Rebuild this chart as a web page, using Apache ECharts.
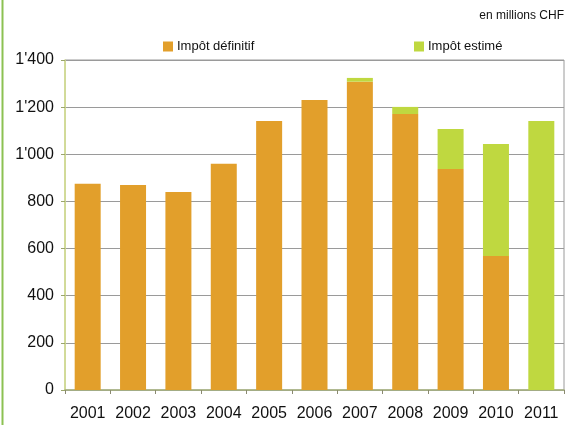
<!DOCTYPE html>
<html>
<head>
<meta charset="utf-8">
<script src="https://cdn.jsdelivr.net/npm/echarts@6/dist/echarts.min.js"></script>
<style>
  html, body { margin: 0; padding: 0; background: #fff; }
  #chart { width: 568px; height: 425px; }
</style>
</head>
<body>
<div id="chart"></div>
<script>
// Annual tax revenue, in millions CHF
const years = ['2001', '2002', '2003', '2004', '2005', '2006', '2007', '2008', '2009', '2010', '2011'];
const impotDefinitif = [875, 870, 840, 960, 1141, 1230, 1308, 1171, 938, 568, 0];
const impotEstime = [0, 0, 0, 0, 0, 0, 16, 30, 169, 476, 1141];
const yTicks = { min: 0, max: 1400, step: 200 };

const FONT = '"Liberation Sans", Arial, sans-serif';
const ORANGE = '#e29f2b';
const GREEN = '#bfd840';

function swissThousands(v) {
  return String(v).replace(/\B(?=(\d{3})+(?!\d))/g, "'");
}

const chart = echarts.init(document.getElementById('chart'), null, { renderer: 'canvas' });

const legendText = { fontFamily: FONT, fontSize: 13, color: '#111', padding: [0, 0, 0, -1] };

chart.setOption({
  animation: false,
  backgroundColor: '#fff',
  textStyle: { fontFamily: FONT },
  grid: {
    left: 65, right: 4, top: 60, bottom: 35,
    show: true, borderColor: '#9a9a9a', borderWidth: 1
  },
  legend: [
    {
      left: 163, top: 40, padding: 0, itemWidth: 10, itemHeight: 10, itemGap: 0,
      icon: 'rect', data: ['Impôt définitif'], textStyle: legendText
    },
    {
      left: 414, top: 40, padding: 0, itemWidth: 10, itemHeight: 10, itemGap: 0,
      icon: 'rect', data: ['Impôt estimé'], textStyle: legendText
    }
  ],
  graphic: [
    {
      type: 'line', silent: true,
      shape: { x1: 2.5, y1: 0, x2: 2.5, y2: 425 },
      style: { stroke: '#8cc152', lineWidth: 2 }
    },
    {
      type: 'text', right: 4, top: 10,
      style: { text: 'en millions CHF', fontFamily: FONT, fontSize: 12, fill: '#111' }
    }
  ],
  xAxis: {
    type: 'category',
    data: years,
    axisLine: { show: true, lineStyle: { color: '#a7b27e', width: 1.5 } },
    axisTick: { show: true, alignWithLabel: false, length: 4, lineStyle: { color: '#8a8a70' } },
    axisLabel: { interval: 0, fontFamily: FONT, fontSize: 16, color: '#111', margin: 16 }
  },
  yAxis: {
    type: 'value',
    min: yTicks.min, max: yTicks.max, interval: yTicks.step,
    axisLine: { show: true, lineStyle: { color: '#d3df88', width: 1.5 } },
    axisTick: { show: true, length: 4, lineStyle: { color: '#9aa56b' } },
    axisLabel: {
      fontFamily: FONT, fontSize: 16, color: '#111', margin: 11,
      formatter: swissThousands
    },
    splitLine: { show: true, lineStyle: { color: '#9a9a9a', width: 1.2 } }
  },
  series: [
    {
      name: 'Impôt définitif',
      type: 'bar', stack: 'total', barWidth: 26,
      itemStyle: { color: ORANGE },
      data: impotDefinitif
    },
    {
      name: 'Impôt estimé',
      type: 'bar', stack: 'total', barWidth: 26,
      itemStyle: { color: GREEN },
      data: impotEstime
    }
  ]
});
</script>
</body>
</html>
